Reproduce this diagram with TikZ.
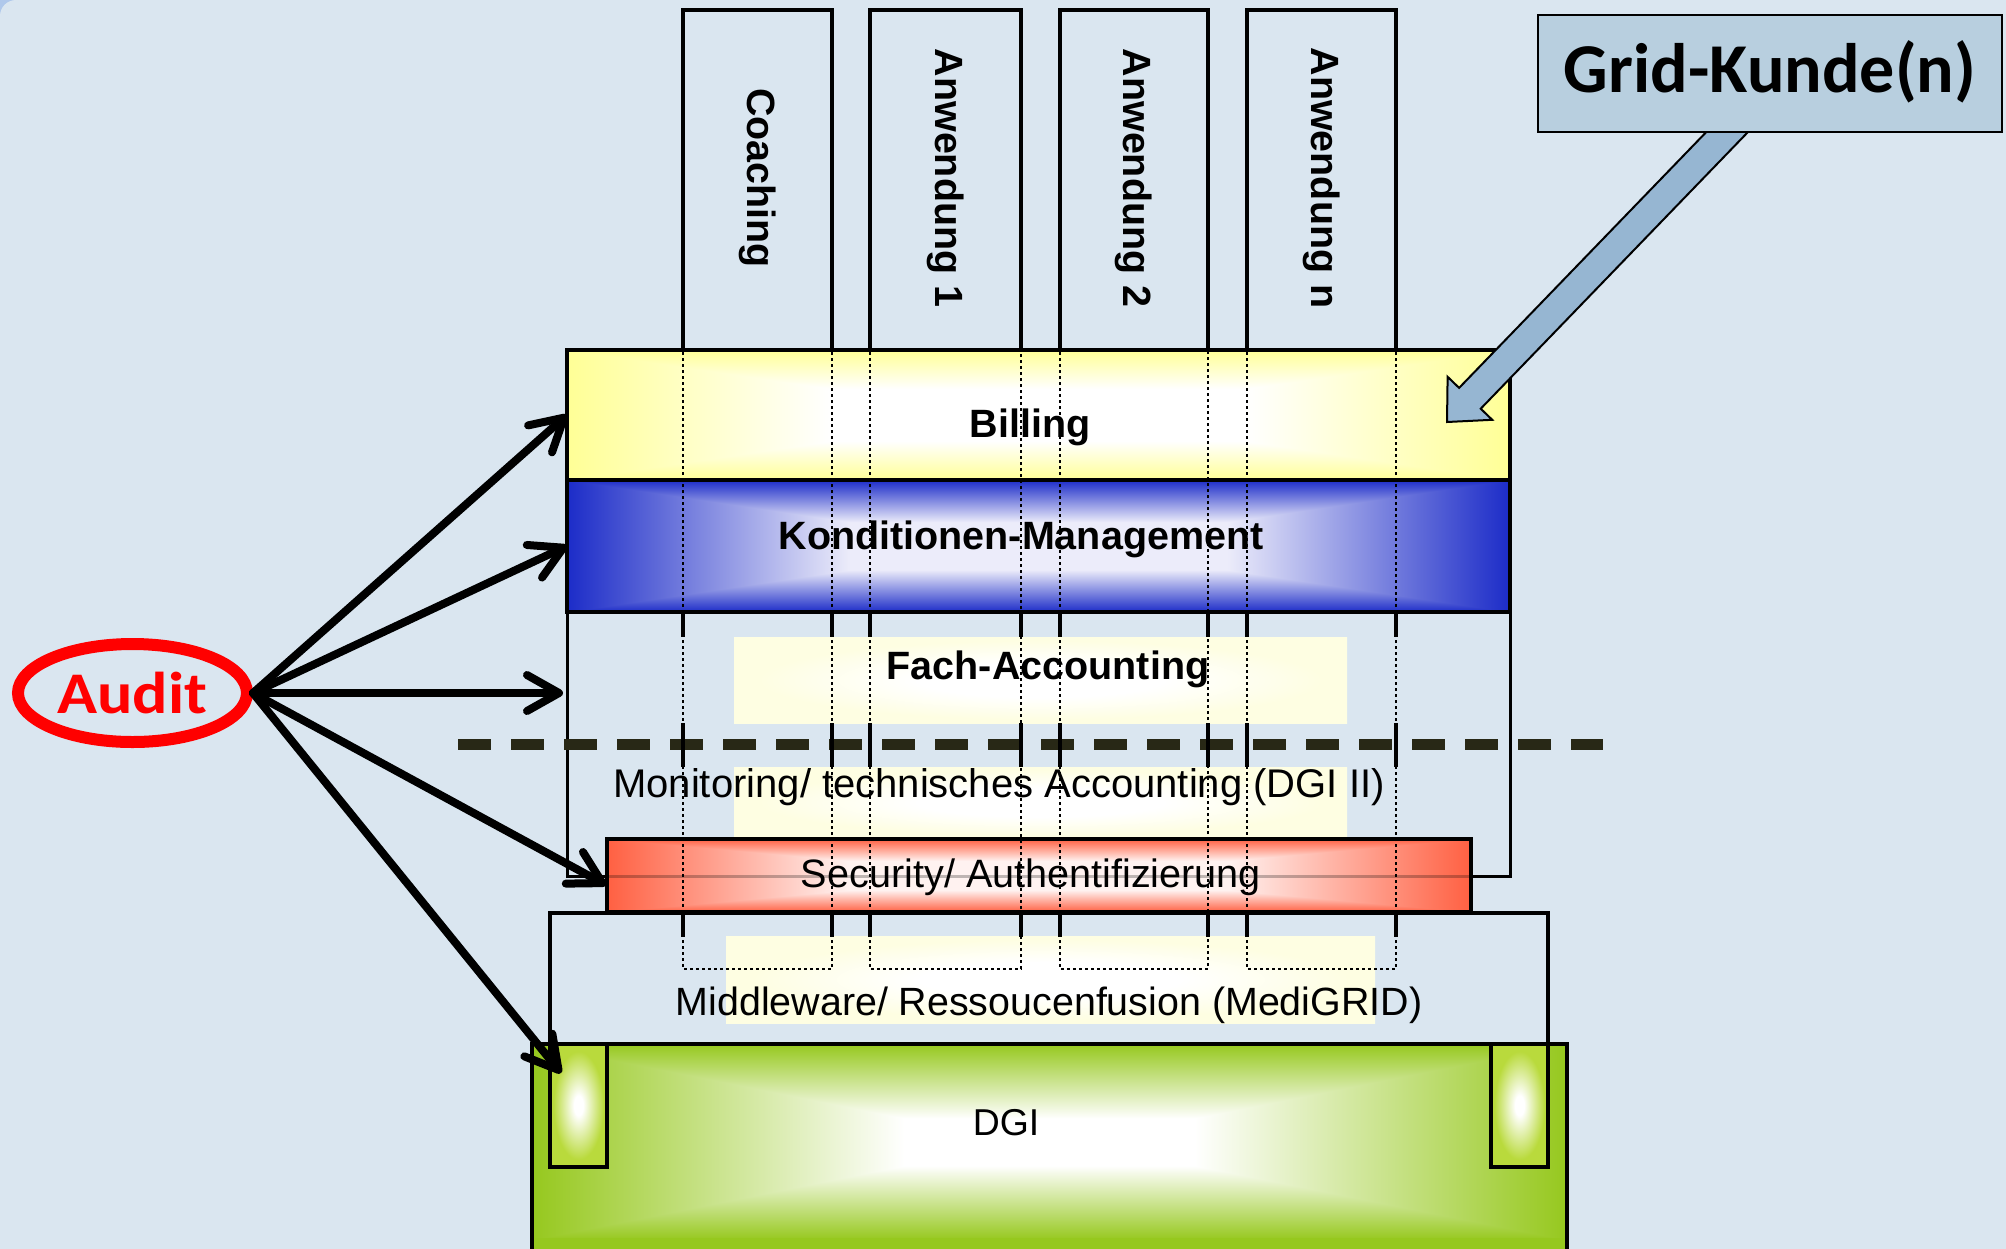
\documentclass[tikz,border=0pt]{standalone}
\usepackage{fontspec}
\setmainfont{Liberation Sans}
\newfontfamily\calibri{Carlito}
\newfontfamily\auditfont[FakeStretch=1.12]{Carlito}
\usetikzlibrary{fit,shapes.geometric,arrows.meta}
\definecolor{bgblue}{RGB}{218,230,240}
\definecolor{cornerblue}{RGB}{175,200,235}
\definecolor{gkfill}{RGB}{184,207,223}
\definecolor{gkarrow}{RGB}{150,182,210}
\definecolor{billY}{RGB}{255,255,150}
\definecolor{konB}{RGB}{28,44,200}
\definecolor{konC}{RGB}{236,236,250}
\definecolor{paleY}{RGB}{254,254,226}
\definecolor{secR}{RGB}{255,96,66}
\definecolor{secC}{RGB}{255,242,240}
\definecolor{dgiG}{RGB}{150,200,30}
\definecolor{pilG}{RGB}{185,218,60}
\definecolor{dashcol}{RGB}{40,40,22}
\definecolor{auditred}{RGB}{255,0,0}
% rectangular gradients: horizontal and vertical parts combined with darken
\pgfdeclarehorizontalshading{billH}{100bp}{color(0bp)=(billY); color(25bp)=(billY); color(39bp)=(white); color(61bp)=(white); color(75bp)=(billY); color(100bp)=(billY)}
\pgfdeclareverticalshading{billV}{100bp}{color(0bp)=(billY); color(25bp)=(billY); color(40bp)=(white); color(60bp)=(white); color(75bp)=(billY); color(100bp)=(billY)}
\pgfdeclarehorizontalshading{konH}{100bp}{color(0bp)=(konB); color(25bp)=(konB); color(40bp)=(konC); color(60bp)=(konC); color(75bp)=(konB); color(100bp)=(konB)}
\pgfdeclareverticalshading{konV}{100bp}{color(0bp)=(konB); color(25bp)=(konB); color(41bp)=(konC); color(59bp)=(konC); color(75bp)=(konB); color(100bp)=(konB)}
\pgfdeclarehorizontalshading{secH}{100bp}{color(0bp)=(secR); color(25bp)=(secR); color(39bp)=(secC); color(61bp)=(secC); color(75bp)=(secR); color(100bp)=(secR)}
\pgfdeclareverticalshading{secV}{100bp}{color(0bp)=(secR); color(25bp)=(secR); color(40bp)=(secC); color(60bp)=(secC); color(75bp)=(secR); color(100bp)=(secR)}
\pgfdeclarehorizontalshading{dgiH}{100bp}{color(0bp)=(dgiG); color(25bp)=(dgiG); color(43bp)=(white); color(57bp)=(white); color(75bp)=(dgiG); color(100bp)=(dgiG)}
\pgfdeclareverticalshading{dgiV}{100bp}{color(0bp)=(dgiG); color(25bp)=(dgiG); color(44bp)=(white); color(56bp)=(white); color(75bp)=(dgiG); color(100bp)=(dgiG)}
\pgfdeclareradialshading{paleshade}{\pgfpoint{0bp}{0bp}}{color(0bp)=(white); color(10bp)=(white); color(23bp)=(paleY); color(50bp)=(paleY)}
\pgfdeclareradialshading{pilshade}{\pgfpoint{0bp}{0bp}}{color(0bp)=(white); color(4bp)=(white); color(22bp)=(pilG); color(50bp)=(pilG)}
\newcommand{\rectgradfill}[3]{%
  \shade[shading=#2] (#1.north west) rectangle (#1.south east);
  \begin{scope}[blend mode=darken]
    \shade[shading=#3] (#1.north west) rectangle (#1.south east);
  \end{scope}}
\tikzset{
  boxnode/.style={inner sep=0pt, outer sep=0pt},
  boldlbl/.style={font=\bfseries\fontsize{19.75pt}{23pt}\selectfont, inner sep=0pt, anchor=base},
  normlbl/.style={font=\fontsize{19.8pt}{23pt}\selectfont, inner sep=0pt, anchor=base},
  collbl/.style={font=\bfseries\fontsize{19.7pt}{23pt}\selectfont, inner sep=0pt, rotate=-90},
  colsolid/.style={line width=1.6pt, line join=miter},
  coldot/.style={line width=1.4pt, dash pattern=on 1.4pt off 1.6pt},
  auditarrow/.style={line width=4pt, line cap=round, -{Straight Barb[length=16pt,width=18pt,line cap=round,line join=round]}},
}
\begin{document}
\begin{tikzpicture}[x=0.5pt,y=-0.5pt]
\useasboundingbox (0,0) rectangle (2006,1248);
% background
\fill[cornerblue] (0,0) rectangle (2006,1248);
\fill[bgblue, rounded corners=8pt] (0,0) rectangle (2100,1350);

% outer frame
\node[boxnode, fit={(567,350) (1510,876)}, draw, line width=1.5pt] (frame) {};

% Billing and Konditionen
\node[boxnode, fit={(567,350) (1510,480)}] (billing) {};
\rectgradfill{billing}{billH}{billV}
\draw[line width=1.6pt] (billing.north west) rectangle (billing.south east);
\node[boxnode, fit={(567,480) (1510,612)}] (kond) {};
\rectgradfill{kond}{konH}{konV}
\draw[line width=1.6pt] (kond.north west) rectangle (kond.south east);

% Grid-Kunde arrow and box
\coordinate (gktip) at (1447,422);
\draw[fill=gkarrow, line width=1pt, line join=miter] (1748.2,88.6) -- (1459.1,387.9) -- (1447.6,376.8) -- (gktip) -- (1492.2,419.8) -- (1480.7,408.7) -- (1769.8,109.4) -- cycle;
\node[boxnode, fit={(1538,15) (2002,132)}, draw, line width=1.2pt, fill=gkfill] (gridbox) {};
\node[font=\calibri\bfseries\fontsize{35pt}{40pt}\selectfont, inner sep=0pt, anchor=base] (gridtxt) at (1770,92) {Grid-Kunde(n)};

% pale boxes
\node[boxnode, fit={(734,637) (1347,723)}, shade, shading=paleshade] (fachbox) {};
\node[boxnode, fit={(734,767) (1347,838)}, shade, shading=paleshade] (monbox) {};

% dashed separator
\coordinate (dashL) at (458,744);
\coordinate (dashR) at (1603,744);
\draw[dashcol, line width=5.5pt, dash pattern=on 16.5pt off 10pt] (dashL) -- (dashR);

% security
\node[boxnode, fit={(607,839) (1471,912)}] (security) {};
\rectgradfill{security}{secH}{secV}
\draw[line width=1.8pt] (security.north west) rectangle (security.south east);
\draw[line width=1.5pt, black, opacity=0.25] (607,876) -- (1471,876);

% middleware frame
\node[boxnode, fit={(550,913) (1548,1044)}, draw, line width=2pt] (mwframe) {};
\node[boxnode, fit={(726,936) (1375,1023)}, shade, shading=paleshade] (mwbox) {};

% DGI
\node[boxnode, fit={(532,1044) (1567,1240)}] (dgi) {};
\rectgradfill{dgi}{dgiH}{dgiV}
\fill[dgiG] (532,1238) rectangle (1567,1262);
\draw[line width=1.8pt] (532,1262) -- (532,1044) -- (1567,1044) -- (1567,1262);
\node[boxnode, fit={(550,1044) (607,1167)}, draw, line width=1.8pt, shade, shading=pilshade] (pillarL) {};
\node[boxnode, fit={(1491,1044) (1548,1167)}, draw, line width=1.8pt, shade, shading=pilshade] (pillarR) {};

% columns: solid parts
\foreach \xa/\xb in {683/832, 870/1021, 1060/1208, 1247/1396}{
  \draw[colsolid] (\xa,350) -- (\xa,10) -- (\xb,10) -- (\xb,350);
  \draw[colsolid] (\xa,612) -- (\xa,637) (\xb,612) -- (\xb,637);
  \draw[colsolid] (\xa,723) -- (\xa,767) (\xb,723) -- (\xb,767);
  \draw[colsolid] (\xa,912) -- (\xa,937) (\xb,912) -- (\xb,937);
}

% labels
\node[boldlbl] (billingtxt) at (1030,437) {Billing};
\node[boldlbl] (kondtxt) at (1021,549) {Konditionen-Management};
\node[boldlbl] (fachtxt) at (1048,679) {Fach-Accounting};
\node[normlbl, font=\fontsize{20pt}{23pt}\selectfont] (montxt) at (999,797) {Monitoring/ technisches Accounting (DGI II)};
\node[normlbl] (sectxt) at (1031,887) {Security/ Authentifizierung};
\node[normlbl, font=\fontsize{19.7pt}{23pt}\selectfont] (mwtxt) at (1049,1015) {Middleware/ Ressoucenfusion (MediGRID)};
\node[normlbl, font=\fontsize{18.7pt}{22pt}\selectfont] (dgitxt) at (1006,1135) {DGI};

\node[collbl] (coachtxt) at (757.5,178) {Coaching};
\node[collbl] (anw1txt) at (945.5,178) {Anwendung 1};
\node[collbl] (anw2txt) at (1134,178) {Anwendung 2};
\node[collbl] (anwntxt) at (1321.5,178) {Anwendung n};

% columns: dotted overlay
\foreach \xa/\xb in {683/832, 870/1021, 1060/1208, 1247/1396}{
  \draw[coldot] (\xa,10) -- (\xa,969) -- (\xb,969) -- (\xb,10);
}

% Audit
\node[ellipse, draw=auditred, line width=6pt, minimum width=114.5pt, minimum height=49pt, inner sep=0pt, text=auditred, font=\auditfont\bfseries\fontsize{29.5pt}{34pt}\selectfont] (audit) at (132.5,693) {Audit};
\coordinate (tipFach) at (563,693);
\coordinate (tipSec) at (606,885);
\coordinate (tipDgi) at (561,1073);
\draw[auditarrow] (audit.east) -- (billing.west);
\draw[auditarrow] (audit.east) -- (kond.west);
\draw[auditarrow] (audit.east) -- (tipFach);
\draw[auditarrow] (audit.east) -- (tipSec);
\draw[auditarrow] (audit.east) -- (tipDgi);
\end{tikzpicture}
\end{document}
